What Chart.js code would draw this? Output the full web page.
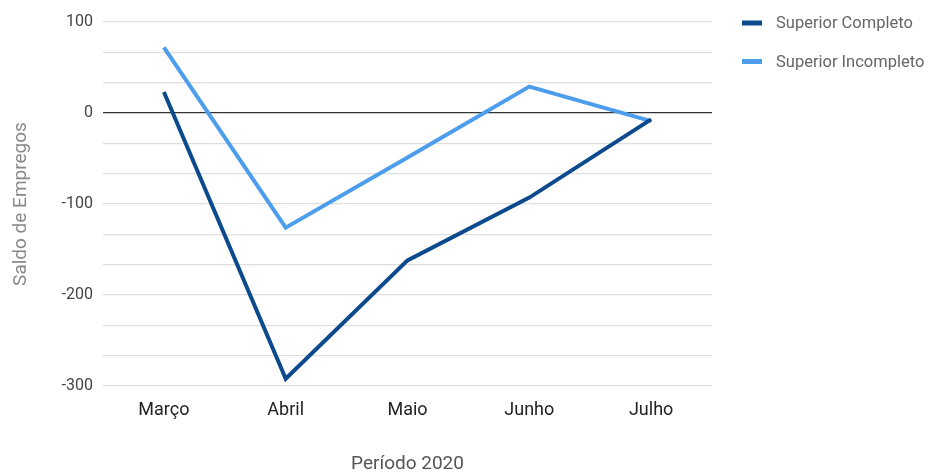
<!DOCTYPE html>
<html>
<head>
<meta charset="utf-8">
<script src="https://cdn.jsdelivr.net/npm/chart.js@4/dist/chart.umd.min.js"></script>
<style>
  html, body { margin: 0; padding: 0; background: #fff; }
  #wrap { width: 940px; height: 472px; }
</style>
</head>
<body>
<div id="wrap"><canvas id="c" width="940" height="472"></canvas></div>
<script>
// Saldo de empregos por mês (2020)
const months = ['Março', 'Abril', 'Maio', 'Junho', 'Julho'];
const superiorCompleto = [23, -292, -162, -93, -7];
const superiorIncompleto = [72, -126, -49, 29, -9];
const yTickLabels = [100, 0, -100, -200, -300];
const seriesNames = ['Superior Completo', 'Superior Incompleto'];
const seriesColors = ['#0c4a8d', '#4d9ded'];

// major ticks carry labels; each interval is split into three by light gridlines
function gridValues() {
  const vals = [];
  for (let i = 0; i < yTickLabels.length; i++) {
    vals.push(yTickLabels[i]);
    if (i < yTickLabels.length - 1) {
      const a = yTickLabels[i], b = yTickLabels[i + 1];
      vals.push(a + (b - a) / 3, a + 2 * (b - a) / 3);
    }
  }
  return vals.sort((x, y) => x - y);
}

// legend drawn to the right of the plot area
const sideLegend = {
  id: 'sideLegend',
  afterDraw(chart) {
    const ctx = chart.ctx;
    ctx.save();
    chart.data.datasets.forEach((ds, i) => {
      const y = 23 + i * 38.5;
      ctx.fillStyle = ds.borderColor;
      ctx.fillRect(742, y - 2.5, 20, 5);
      ctx.fillStyle = '#666';
      ctx.font = '16.5px Roboto';
      ctx.textBaseline = 'middle';
      ctx.textAlign = 'left';
      ctx.fillText(ds.label, 776, y + 1);
    });
    ctx.restore();
  }
};

new Chart(document.getElementById('c'), {
  type: 'line',
  data: {
    labels: months,
    datasets: [
      { label: seriesNames[0], data: superiorCompleto, borderColor: seriesColors[0], backgroundColor: seriesColors[0], borderWidth: 4, pointRadius: 0, tension: 0 },
      { label: seriesNames[1], data: superiorIncompleto, borderColor: seriesColors[1], backgroundColor: seriesColors[1], borderWidth: 4, pointRadius: 0, tension: 0 }
    ]
  },
  options: {
    responsive: false,
    animation: false,
    layout: { padding: { top: 22, right: 228, left: 0, bottom: 0 } },
    plugins: { legend: { display: false }, tooltip: { enabled: false } },
    scales: {
      x: {
        offset: true,
        grid: { display: false, drawTicks: false },
        border: { display: false },
        ticks: { color: '#222', font: { family: 'Roboto', size: 18 }, padding: 14 },
        title: { display: true, text: 'Período 2020', color: '#555', font: { family: 'Roboto', size: 19 }, padding: { top: 0, bottom: -4 } },
        afterFit(s) { s.height = 86; }
      },
      y: {
        min: -300,
        max: 100,
        afterBuildTicks(s) { s.ticks = gridValues().map(v => ({ value: v })); },
        grid: {
          drawTicks: false,
          color: c => (c.tick && Math.abs(c.tick.value) < 1e-6) ? '#333' : '#dedede',
          lineWidth: c => (c.tick && Math.abs(c.tick.value) < 1e-6) ? 1.3 : 1.2
        },
        border: { display: false },
        ticks: {
          autoSkip: false,
          color: '#444',
          font: { family: 'Roboto', size: 16 },
          padding: 10,
          callback: v => yTickLabels.includes(Math.round(v)) && Math.abs(v - Math.round(v)) < 1e-6 ? String(Math.round(v)) : ''
        },
        title: { display: true, text: 'Saldo de Empregos', color: '#888', font: { family: 'Roboto', size: 19 }, padding: { top: 10, bottom: 0 } },
        afterFit(s) { s.width = 103; }
      }
    }
  },
  plugins: [sideLegend]
});
</script>
</body>
</html>
